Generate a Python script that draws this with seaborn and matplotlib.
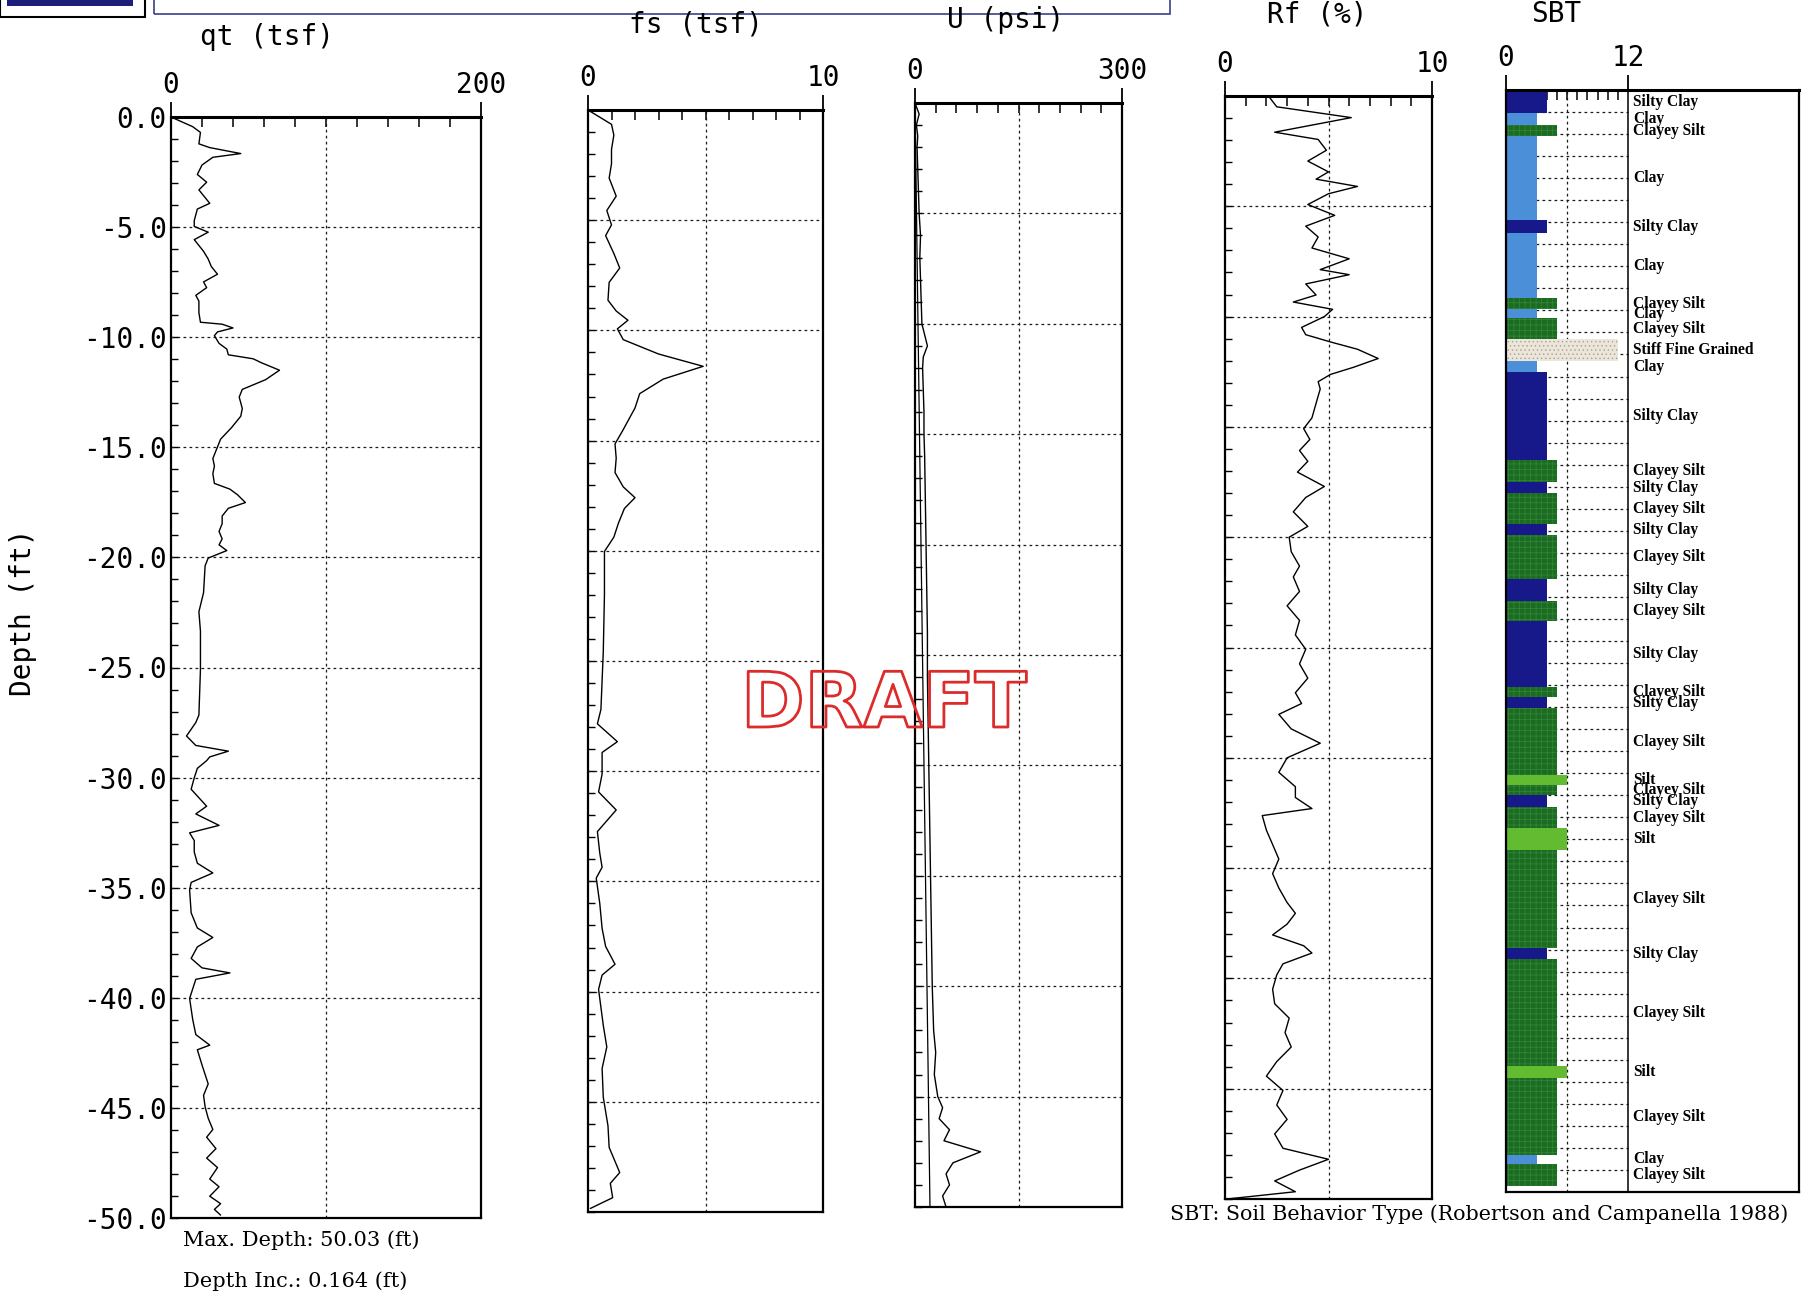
import numpy as np
import matplotlib
matplotlib.use("Agg")
import matplotlib.pyplot as plt
import matplotlib.patheffects as pe
from matplotlib.patches import Rectangle
import seaborn as sns

# ---------------- data ----------------
qt_depth = [0.0, -0.44, -0.70, -1.22, -1.39, -1.66, -1.83, -2.18, -2.61, -2.96, -3.31, -3.92,
            -4.18, -4.70, -4.97, -5.23, -5.57, -6.10, -6.45, -6.79, -7.14, -7.49, -7.75, -8.10,
            -8.36, -8.89, -9.32, -9.41, -9.58, -9.76, -9.93, -10.28, -10.54, -10.80, -10.98,
            -11.15, -11.50, -11.93, -12.37, -12.72, -13.24, -13.59, -14.11, -14.63, -14.98,
            -15.51, -15.85, -16.20, -16.64, -16.90, -17.16, -17.51, -17.77, -18.12, -18.47,
            -18.82, -19.16, -19.43, -19.69, -20.03, -20.38, -21.60, -22.47, -23.35, -25.09,
            -27.16, -27.50, -28.11, -28.54, -28.80, -29.06, -29.23, -29.58, -30.01, -30.53,
            -31.30, -31.65, -32.17, -32.51, -32.86, -33.38, -33.89, -34.33, -34.76, -35.10,
            -36.14, -36.83, -37.26, -37.69, -38.21, -38.64, -38.87, -39.16, -40.03, -40.98,
            -41.67, -42.15, -42.36, -43.05, -43.91, -44.43, -44.95, -45.47, -45.98, -46.33,
            -46.85, -47.28, -47.71, -48.23, -48.58, -49.01, -49.35, -49.61, -49.87]
qt_tsf = [0, 14, 19, 18, 25, 45, 27, 20, 17, 23, 18, 25,
          17, 15, 15, 24, 15, 21, 24, 26, 30, 21, 23, 16,
          18, 18, 19, 33, 40, 30, 28, 31, 36, 37, 53,
          58, 70, 61, 46, 44, 46, 45, 39, 32, 30,
          27, 28, 27, 28, 38, 43, 48, 37, 33, 33,
          31, 33, 31, 36, 24, 22, 21, 18, 19, 19,
          18, 16, 10, 16, 37, 25, 23, 17, 15, 13,
          23, 16, 31, 12, 15, 15, 17, 27, 13, 12,
          13, 17, 27, 17, 13, 20, 38, 16, 12, 14,
          16, 25, 17, 20, 24, 21, 22, 24, 27, 23,
          29, 23, 30, 25, 31, 25, 32, 28, 32]

fs_depth = [0.0, -0.65, -1.14, -1.79, -2.44, -3.09, -3.91, -4.56, -5.21, -5.70, -6.51, -7.17,
            -7.82, -8.63, -9.12, -9.54, -9.93, -10.42, -11.07, -11.63, -12.21, -12.87, -13.52,
            -14.50, -15.15, -15.80, -16.45, -17.10, -17.59, -18.08, -18.73, -19.38, -20.03,
            -21.99, -24.59, -27.20, -27.85, -28.66, -29.15, -30.13, -30.94, -31.76, -32.74,
            -33.71, -34.36, -34.85, -35.99, -37.13, -37.95, -38.76, -39.25, -39.90, -41.53,
            -42.51, -43.49, -44.79, -46.09, -47.07, -48.21, -48.70, -49.35, -49.84]
fs_tsf = [0.0, 1.0, 1.1, 1.0, 1.0, 0.9, 1.2, 0.8, 1.0, 0.75, 1.1, 1.35,
          0.9, 0.85, 1.2, 1.7, 1.25, 1.5, 3.0, 4.9, 3.2, 2.2, 2.0,
          1.5, 1.15, 1.2, 1.15, 1.5, 2.0, 1.55, 1.3, 1.1, 0.7,
          0.7, 0.65, 0.55, 0.4, 1.25, 0.6, 0.6, 0.45, 1.2, 0.4,
          0.5, 0.6, 0.35, 0.5, 0.6, 0.75, 1.15, 0.6, 0.45, 0.65,
          0.8, 0.6, 0.65, 0.85, 0.9, 1.35, 0.95, 1.05, 0.1]

u_depth = [0.0, -0.5, -1.0, -1.5, -2.0, -3.0, -4.0, -5.0, -6.0, -7.0, -8.0, -9.0, -10.0,
           -10.5, -11.0, -11.5, -12.0, -13.0, -14.0, -15.0, -16.0, -18.0, -20.0, -22.0,
           -24.0, -26.0, -28.0, -30.0, -32.0, -34.0, -36.0, -38.0, -40.0, -42.0, -43.0,
           -44.0, -45.0, -45.5, -46.0, -46.5, -47.0, -47.5, -48.0, -48.5, -49.0, -49.5, -50.0]
u_psi = [0, 6, 2, 4, 3, 4, 5, 6, 8, 7, 8, 9, 10,
         14, 18, 12, 11, 12, 13, 13, 14, 15, 16, 17,
         18, 18, 19, 20, 21, 22, 23, 24, 25, 27, 30,
         28, 33, 40, 35, 50, 42, 95, 55, 45, 50, 40, 45]
u0_depth = [0.0, -50.0]
u0_psi = [0.0, 21.7]

rf_depth = [0.0, -0.49, -0.98, -1.64, -1.97, -2.46, -2.95, -3.44, -3.77, -4.10, -4.43, -4.92,
            -5.41, -5.90, -6.39, -6.89, -7.38, -7.87, -8.10, -8.52, -9.02, -9.34, -9.67,
            -10.00, -10.49, -10.82, -11.15, -11.48, -11.90, -12.30, -12.62, -12.95, -13.28,
            -13.93, -14.59, -15.08, -15.57, -16.07, -16.56, -17.05, -17.70, -18.20, -18.85,
            -19.51, -20.00, -20.66, -21.31, -21.80, -22.46, -23.11, -23.77, -24.43, -25.08,
            -25.74, -26.39, -27.05, -27.54, -28.03, -28.69, -29.34, -30.00, -30.66, -31.31,
            -31.80, -32.30, -32.62, -33.28, -33.93, -34.59, -35.25, -35.90, -36.56, -37.05,
            -37.54, -38.03, -38.52, -38.85, -39.34, -39.84, -40.49, -41.15, -41.80, -42.46,
            -43.11, -43.77, -44.43, -45.08, -45.74, -46.39, -47.05, -47.70, -48.20, -48.69,
            -49.18, -49.67, -50.0]
rf_pct = [2.1, 2.5, 6.1, 2.4, 4.5, 4.9, 4.0, 5.0, 4.4, 6.4, 5.0, 4.0,
          5.3, 3.9, 4.5, 4.2, 6.0, 4.6, 6.0, 3.9, 4.4, 3.3, 5.2,
          4.8, 3.7, 3.9, 5.1, 6.4, 7.4, 6.2, 5.1, 4.5, 4.6,
          4.4, 4.2, 3.8, 4.1, 3.6, 4.0, 3.5, 4.8, 3.9, 3.3,
          4.0, 3.1, 3.2, 3.6, 3.3, 3.6, 3.0, 3.6, 3.4, 3.9,
          3.6, 4.0, 3.4, 3.7, 2.6, 3.2, 4.6, 3.0, 2.6, 3.4,
          3.4, 4.2, 1.8, 2.0, 2.3, 2.6, 2.3, 2.6, 3.0, 3.4,
          3.0, 2.3, 3.8, 4.2, 2.8, 2.5, 2.3, 2.4, 3.1, 2.9,
          3.2, 2.5, 2.0, 2.8, 2.5, 3.0, 2.4, 2.8, 5.0, 3.6,
          2.4, 3.4, 0.1]

# soil behaviour type layers (top / bottom depth in ft, class name)
sbt_top = [0.0, 1.05, 1.6, 2.1, 5.9, 6.5, 9.45, 9.95, 10.35, 11.3, 12.3, 12.8, 16.8, 17.8,
           18.3, 19.7, 20.2, 22.2, 23.2, 24.1, 27.1, 27.55, 28.05, 31.1, 31.55, 32.0, 32.55,
           33.5, 34.5, 38.95, 39.45, 44.3, 44.85, 48.3, 48.75]
sbt_bottom = [1.05, 1.6, 2.1, 5.9, 6.5, 9.45, 9.95, 10.35, 11.3, 12.3, 12.8, 16.8, 17.8, 18.3,
              19.7, 20.2, 22.2, 23.2, 24.1, 27.1, 27.55, 28.05, 31.1, 31.55, 32.0, 32.55, 33.5,
              34.5, 38.95, 39.45, 44.3, 44.85, 48.3, 48.75, 49.75]
sbt_class = ["Silty Clay", "Clay", "Clayey Silt", "Clay", "Silty Clay", "Clay", "Clayey Silt",
             "Clay", "Clayey Silt", "Stiff Fine Grained", "Clay", "Silty Clay", "Clayey Silt",
             "Silty Clay", "Clayey Silt", "Silty Clay", "Clayey Silt", "Silty Clay",
             "Clayey Silt", "Silty Clay", "Clayey Silt", "Silty Clay", "Clayey Silt", "Silt",
             "Clayey Silt", "Silty Clay", "Clayey Silt", "Silt", "Clayey Silt", "Silty Clay",
             "Clayey Silt", "Silt", "Clayey Silt", "Clay", "Clayey Silt"]
# zone numbers (bar length) of each class
sbt_zone = {"Clay": 3, "Silty Clay": 4, "Clayey Silt": 5, "Silt": 6, "Stiff Fine Grained": 11}

depth_ticks = [0, -5, -10, -15, -20, -25, -30, -35, -40, -45, -50]

# ---------------- styling ----------------
sns.set_theme(style="white")
plt.rcParams["font.family"] = ["DejaVu Sans Mono", "DejaVu Sans"]
plt.rcParams["text.color"] = "black"
plt.rcParams["xtick.color"] = "black"
plt.rcParams["ytick.color"] = "black"
plt.rcParams["hatch.linewidth"] = 0.5

FS = 20  # plotter-style lettering size

W, H = 1811, 1294
fig = plt.figure(figsize=(W / 100, H / 100), dpi=100)
fig.patch.set_facecolor("white")


def box(l, t, r, b):
    return [l / W, 1 - b / H, (r - l) / W, (b - t) / H]


GRID = dict(color="#1a1a1a", lw=0.9, ls=(0, (2.2, 2.6)), zorder=1)


def frame(ax, xmax, mid, step, xlabels):
    ax.set_xlim(0, xmax)
    ax.set_ylim(-50, 0)
    ax.set_facecolor("white")
    ax.xaxis.tick_top()
    ax.set_xticks([0, xmax])
    ax.set_xticklabels(xlabels)
    ax.set_xticks(np.arange(step, xmax - step / 2, step), minor=True)
    ax.tick_params(axis="x", which="major", direction="out", length=11, width=1.3, pad=2,
                   labelsize=FS, top=True, bottom=False, labeltop=True, labelbottom=False)
    ax.tick_params(axis="x", which="minor", direction="in", length=7, width=1.1,
                   top=True, bottom=False)
    ax.set_yticks(depth_ticks)
    ax.set_yticks(np.arange(-50, 0.5, 1), minor=True)
    ax.tick_params(axis="y", which="both", direction="in", length=5, width=1.0,
                   left=True, right=False, labelleft=False)
    for s in ax.spines.values():
        s.set_color("black")
        s.set_linewidth(1.6)
    ax.spines["top"].set_linewidth(2.2)
    for d in depth_ticks[1:-1]:
        ax.axhline(d, **GRID)
    if mid is not None:
        ax.axvline(mid, **GRID)


# qt
ax_qt = fig.add_axes(box(171, 117, 481, 1218))
frame(ax_qt, 200, 100, 20, ["0", "200"])
sns.lineplot(x=qt_tsf, y=qt_depth, orient="y", sort=False, estimator=None,
             color="black", lw=1.0, ax=ax_qt, zorder=3)
ax_qt.tick_params(axis="y", which="major", labelleft=True, labelsize=FS, pad=3)
ax_qt.set_yticklabels([f"{v:.1f}" for v in depth_ticks])

# fs
ax_fs = fig.add_axes(box(588, 110, 823, 1212))
frame(ax_fs, 10, 5, 1, ["0", "10"])
sns.lineplot(x=fs_tsf, y=fs_depth, orient="y", sort=False, estimator=None,
             color="black", lw=1.0, ax=ax_fs, zorder=3)

# U with hydrostatic reference line
ax_u = fig.add_axes(box(915, 103, 1122, 1207))
frame(ax_u, 300, 150, 30, ["0", "300"])
sns.lineplot(x=u0_psi, y=u0_depth, orient="y", sort=False, estimator=None,
             color="black", lw=0.9, ax=ax_u, zorder=3)
sns.lineplot(x=u_psi, y=u_depth, orient="y", sort=False, estimator=None,
             color="black", lw=1.0, ax=ax_u, zorder=3)

# Rf
ax_rf = fig.add_axes(box(1225, 96, 1432, 1199))
frame(ax_rf, 10, 5, 1, ["0", "10"])
sns.lineplot(x=rf_pct, y=rf_depth, orient="y", sort=False, estimator=None,
             color="black", lw=1.0, ax=ax_rf, zorder=3)

for a in (ax_qt, ax_fs, ax_u, ax_rf):
    a.set_xlabel("")
    a.set_ylabel("")

# SBT column
ax_s = fig.add_axes(box(1506, 90, 1799, 1192))
ax_s.set_xlim(0, 28.8)
ax_s.set_ylim(-50, 0)
ax_s.xaxis.tick_top()
ax_s.set_xticks([0, 12])
ax_s.set_xticklabels(["0", "12"])
ax_s.set_xticks(np.arange(1, 12), minor=True)
ax_s.tick_params(axis="x", which="major", direction="out", length=11, width=1.3, pad=2,
                 labelsize=FS, top=True, bottom=False, labeltop=True, labelbottom=False)
ax_s.tick_params(axis="x", which="minor", direction="in", length=7, width=1.1,
                 top=True, bottom=False)
ax_s.set_yticks([])
for s in ax_s.spines.values():
    s.set_color("black")
    s.set_linewidth(1.6)
ax_s.spines["top"].set_linewidth(2.2)
ax_s.hlines(np.arange(-49, 0, 1), 0, 12, **GRID)
ax_s.vlines(6, -50, 0, **GRID)
ax_s.vlines(12, -50, 0, color="black", lw=1.1, zorder=1)

face = {"Clay": "#4a8fd8", "Silty Clay": "#17188a", "Clayey Silt": "#1d6a22",
        "Silt": "#62bb30", "Stiff Fine Grained": "#ece6da"}
hatch = {"Clay": "", "Silty Clay": "", "Clayey Silt": "+++",
         "Silt": "", "Stiff Fine Grained": "...."}
hatch_col = {"Clay": "#4a8fd8", "Silty Clay": "#17188a", "Clayey Silt": "#2f8a36",
             "Silt": "#62bb30", "Stiff Fine Grained": "#a9a190"}
for t, b, c in zip(sbt_top, sbt_bottom, sbt_class):
    ax_s.barh(-(t + b) / 2, sbt_zone[c], height=b - t, left=0, color=face[c],
              edgecolor=hatch_col[c], linewidth=0, hatch=hatch[c], zorder=2)
    ax_s.text(12.5, -(t + b) / 2, c, ha="left", va="center", fontsize=11.2,
              family="Liberation Serif", weight="bold", zorder=4)

# panel titles
titles = [("qt (tsf)", 267, 37), ("fs (tsf)", 696, 25), ("U (psi)", 1006, 20),
          ("Rf (%)", 1317, 15), ("SBT", 1556, 14)]
for txt, x, y in titles:
    fig.text(x / W, 1 - y / H, txt, ha="center", va="center", fontsize=FS)

fig.text(23 / W, 1 - 612 / H, "Depth (ft)", rotation=90, ha="center", va="center",
         fontsize=FS)

# footnotes
fig.text(183 / W, 1 - 1240 / H, "Max. Depth: 50.03 (ft)", ha="left", va="center",
         fontsize=15, family="DejaVu Serif")
fig.text(183 / W, 1 - 1281 / H, "Depth Inc.: 0.164 (ft)", ha="left", va="center",
         fontsize=15, family="DejaVu Serif")
fig.text(1170 / W, 1 - 1214 / H, "SBT: Soil Behavior Type (Robertson and Campanella 1988)",
         ha="left", va="center", fontsize=14.9, family="DejaVu Serif")

# header frames at the top edge
fig.add_artist(Rectangle((0, 1 - 17 / H), 145 / W, 40 / H, transform=fig.transFigure,
                         fill=False, ec="black", lw=1.5))
fig.add_artist(Rectangle((7 / W, 1 - 6 / H), 126 / W, 12 / H, transform=fig.transFigure,
                         fc="#1c1f7a", ec="none"))
fig.add_artist(Rectangle((154 / W, 1 - 14 / H), (1170 - 154) / W, 40 / H,
                         transform=fig.transFigure, fill=False, ec="#3a3f8a", lw=1.2))

# stamp
fig.text(884 / W, 1 - 706 / H, "DRAFT", ha="center", va="center", fontsize=55,
         family="DejaVu Sans", weight="bold", color=(1, 1, 1, 0), zorder=20,
         path_effects=[pe.Stroke(linewidth=2.0, foreground="#dc2b2b")])

fig.savefig("out.png", dpi=100, facecolor="white")
